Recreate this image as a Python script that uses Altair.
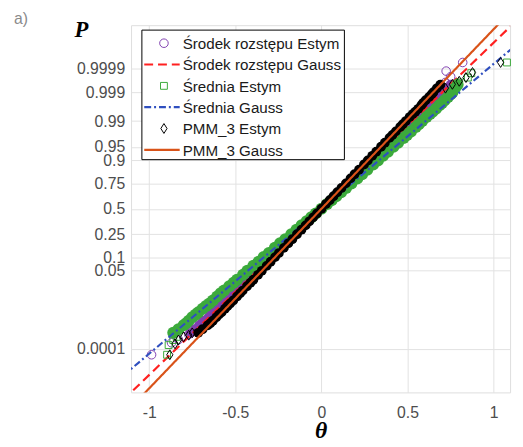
import altair as alt
import pandas as pd
from statistics import NormalDist

ND = NormalDist()

# ---------------- data ----------------
SERIES = ["Środek rozstępu Estym", "Środek rozstępu Gauss", "Średnia Estym",
          "Średnia Gauss", "PMM_3 Estym", "PMM_3 Gauss"]
SERIES_KIND = ["marker", "line", "marker", "line", "marker", "line"]
COLORS = ["#8040b0", "#ff2020", "#3caa3c", "#2f4fbf", "#000000", "#d95319"]

P_TICKS = [0.0001, 0.05, 0.1, 0.25, 0.5, 0.75, 0.9, 0.95, 0.99, 0.999, 0.9999]
P_TICK_LABELS = ["0.0001", "0.05", "0.1", "0.25", "0.5", "0.75", "0.9", "0.95",
                 "0.99", "0.999", "0.9999"]
THETA_TICKS = [-1, -0.5, 0, 0.5, 1]

# dense central part of the empirical distributions (probability levels)
band_P = [0.0005, 0.001, 0.0015, 0.002, 0.003, 0.005, 0.0075, 0.01, 0.015, 0.02,
          0.03, 0.04, 0.05, 0.065, 0.08, 0.1, 0.12, 0.15, 0.18, 0.21,
          0.25, 0.29, 0.33, 0.37, 0.41, 0.45, 0.5,
          0.55, 0.59, 0.63, 0.67, 0.71, 0.75, 0.79, 0.82, 0.85, 0.88,
          0.9, 0.92, 0.935, 0.95, 0.96, 0.97, 0.98, 0.985, 0.99, 0.9925,
          0.995, 0.997, 0.998, 0.9985, 0.999, 0.9995]
band_theta_srodek = [-0.76, -0.71, -0.68, -0.655, -0.625, -0.585, -0.552, -0.528, -0.493, -0.466,
                     -0.427, -0.397, -0.373, -0.344, -0.319, -0.291, -0.267, -0.235, -0.208, -0.183,
                     -0.153, -0.126, -0.1, -0.075, -0.052, -0.029, 0.0,
                     0.029, 0.052, 0.075, 0.1, 0.126, 0.153, 0.183, 0.208, 0.235, 0.267,
                     0.291, 0.319, 0.344, 0.373, 0.397, 0.427, 0.466, 0.493, 0.528, 0.552,
                     0.585, 0.625, 0.655, 0.68, 0.71, 0.75]
band_theta_srednia = [-0.86, -0.80, -0.77, -0.75, -0.715, -0.67, -0.63, -0.605, -0.565, -0.535,
                      -0.49, -0.455, -0.43, -0.395, -0.365, -0.335, -0.305, -0.27, -0.24, -0.21,
                      -0.175, -0.145, -0.115, -0.086, -0.059, -0.033, 0.0,
                      0.033, 0.059, 0.086, 0.114, 0.143, 0.174, 0.208, 0.236, 0.266, 0.3,
                      0.328, 0.358, 0.386, 0.418, 0.445, 0.477, 0.52, 0.548, 0.585, 0.61,
                      0.645, 0.685, 0.715, 0.735, 0.76, 0.79]
band_theta_pmm = [-0.715, -0.66, -0.63, -0.61, -0.58, -0.545, -0.512, -0.49, -0.457, -0.432,
                  -0.395, -0.368, -0.346, -0.318, -0.295, -0.269, -0.247, -0.218, -0.192, -0.169,
                  -0.142, -0.116, -0.092, -0.07, -0.048, -0.026, 0.0,
                  0.026, 0.048, 0.07, 0.092, 0.116, 0.142, 0.169, 0.192, 0.218, 0.247,
                  0.269, 0.295, 0.318, 0.346, 0.368, 0.395, 0.432, 0.457, 0.49, 0.512,
                  0.545, 0.58, 0.605, 0.625, 0.65, 0.69]

# extra readings in the thinner parts of the bands
band_P_extra = [0.0007, 0.0012, 0.0025, 0.004, 0.006, 0.0125, 0.025,
                0.975, 0.9875, 0.994, 0.996, 0.9975, 0.9988, 0.9993]
band_theta_srodek_extra = [-0.735, -0.695, -0.64, -0.602, -0.57, -0.509, -0.445,
                           0.445, 0.509, 0.57, 0.602, 0.64, 0.695, 0.73]
band_theta_srednia_extra = [-0.83, -0.785, -0.73, -0.69, -0.65, -0.585, -0.51,
                            0.497, 0.565, 0.63, 0.665, 0.70, 0.75, 0.775]
band_theta_pmm_extra = [-0.69, -0.645, -0.595, -0.56, -0.53, -0.472, -0.412,
                        0.412, 0.472, 0.53, 0.562, 0.59, 0.64, 0.67]

# sparse tail points (drawn as open markers)
tail_theta_srodek = [-0.986, -0.87, -0.83, -0.80, -0.77, 0.72, 0.75, 0.724, 0.82]
tail_P_srodek = [0.000054, 0.00019, 0.00026, 0.00034, 0.00043, 0.9996, 0.99977, 0.99987, 0.999948]
tail_theta_srednia = [-0.896, -0.887, -0.86, -0.84, 0.80, 0.85, 0.87, 1.077]
tail_P_srednia = [0.000054, 0.00015, 0.00025, 0.00034, 0.9996, 0.99975, 0.99984, 0.999948]
tail_theta_pmm = [-0.88, -0.85, -0.83, -0.80, -0.77, -0.75, 0.72, 0.76, 0.80, 0.839, 0.877, 1.04]
tail_P_pmm = [0.000054, 0.00017, 0.00025, 0.00034, 0.0004, 0.0005,
              0.99931, 0.99952, 0.99964, 0.99975, 0.99985, 0.999948]

# fitted Gaussian CDFs (straight lines on probability paper), end points
gauss_theta_srodek = [-1.15, 1.15]
gauss_P_srodek = [2.0e-7, 1 - 2.0e-7]
gauss_theta_srednia = [-1.15, 1.15]
gauss_P_srednia = [4.9e-6, 1 - 4.9e-6]
gauss_theta_pmm = [-1.10, 1.10]
gauss_P_pmm = [8.0e-8, 1 - 8.0e-8]


def frame(thetas, probs, name):
    return pd.DataFrame({"theta": thetas,
                         "z": [ND.inv_cdf(p) for p in probs],
                         "series": name})


band = {
    0: frame(band_theta_srodek + band_theta_srodek_extra, band_P + band_P_extra, SERIES[0]),
    2: frame(band_theta_srednia + band_theta_srednia_extra, band_P + band_P_extra, SERIES[2]),
    4: frame(band_theta_pmm + band_theta_pmm_extra, band_P + band_P_extra, SERIES[4]),
}
tails = {
    0: frame(tail_theta_srodek, tail_P_srodek, SERIES[0]),
    2: frame(tail_theta_srednia, tail_P_srednia, SERIES[2]),
    4: frame(tail_theta_pmm, tail_P_pmm, SERIES[4]),
}
lines = {
    1: frame(gauss_theta_srodek, gauss_P_srodek, SERIES[1]),
    3: frame(gauss_theta_srednia, gauss_P_srednia, SERIES[3]),
    5: frame(gauss_theta_pmm, gauss_P_pmm, SERIES[5]),
}
legend_df = pd.DataFrame({"series": SERIES, "kind": SERIES_KIND})

# ---------------- styles ----------------
CIRCLE = "M1,0A1,1,0,1,1,-1,0A1,1,0,1,1,1,0Z"
SQUARE = "M-0.8,-0.8H0.8V0.8H-0.8Z"
DIAMOND = "M0,-1.15L0.72,0L0,1.15L-0.72,0Z"
LINE = "M-4.5,0H4.5"
SHAPES = [CIRCLE, LINE, SQUARE, LINE, DIAMOND, LINE]
DASHES = [[1, 0], [9, 5], [1, 0], [7, 3, 2, 3], [1, 0], [1, 0]]
BAND_SIZE = {0: 100, 2: 150, 4: 100}
MARKER_SIZE = 76

z_ticks = [round(ND.inv_cdf(p), 6) for p in P_TICKS]
label_expr = "''"
for zt, lab in zip(z_ticks, P_TICK_LABELS):
    label_expr = f"abs(datum.value - ({zt})) < 0.001 ? '{lab}' : " + label_expr

x_scale = alt.Scale(domain=[-1.105, 1.095], nice=False, zero=False)
y_scale = alt.Scale(domain=[-4.87, 4.87], nice=False, zero=False)
color_scale = alt.Scale(domain=SERIES, range=COLORS)
fill_scale = alt.Scale(domain=SERIES, range=COLORS)
shape_scale = alt.Scale(domain=SERIES, range=SHAPES)
dash_scale = alt.Scale(domain=SERIES, range=DASHES)
# legend rows, placed inside the plot's upper-left corner
legend_row_scale = alt.Scale(type="point", domain=SERIES, range=[18.3, 126.6], padding=0)

x_axis = alt.Axis(values=THETA_TICKS, labelExpr="datum.value + ''", ticks=False, domain=False,
                  grid=True, gridColor="#e2e2e2", labelFont="Liberation Sans", labelFontSize=16,
                  labelColor="#4d4d4d", labelPadding=12, labelFlush=False,
                  title="θ", titleFont="Liberation Serif", titleFontSize=24,
                  titleFontStyle="italic", titleFontWeight="bold", titleColor="#000000",
                  titleBaseline="alphabetic", titleY=46)
y_axis = alt.Axis(values=z_ticks, labelExpr=label_expr, ticks=False, domain=False,
                  grid=True, gridColor="#e2e2e2", labelFont="Liberation Sans", labelFontSize=16,
                  labelColor="#4d4d4d", labelPadding=6.5, labelOverlap=False, labelFlush=False,
                  title="P", titleFont="Liberation Serif", titleFontSize=23,
                  titleFontStyle="italic", titleFontWeight="bold", titleColor="#000000",
                  titleAngle=0, titleAlign="center", titleBaseline="alphabetic",
                  titleX=-51, titleY=11.6)


def x_enc():
    return alt.X("theta:Q", scale=x_scale, axis=x_axis)


def y_enc():
    return alt.Y("z:Q", scale=y_scale, axis=y_axis)


def band_layer(i):
    return alt.Chart(band[i]).mark_circle(size=BAND_SIZE[i], opacity=1).encode(
        x=x_enc(), y=y_enc(),
        fill=alt.Fill("series:N", scale=fill_scale, legend=None),
    )


def tail_layer(i):
    return alt.Chart(tails[i]).mark_point(filled=False, size=MARKER_SIZE, opacity=1,
                                          strokeWidth=1).encode(
        x=x_enc(), y=y_enc(),
        color=alt.Color("series:N", scale=color_scale, legend=None),
        shape=alt.Shape("series:N", scale=shape_scale, legend=None),
    )


def line_layer(i):
    return alt.Chart(lines[i]).mark_line(clip=True, strokeWidth=2.2).encode(
        x=x_enc(), y=y_enc(),
        color=alt.Color("series:N", scale=color_scale, legend=None),
        strokeDash=alt.StrokeDash("series:N", scale=dash_scale, legend=None),
    )


data_layers = alt.layer(
    band_layer(0), tail_layer(0), line_layer(1),
    band_layer(2), tail_layer(2), line_layer(3),
    band_layer(4), tail_layer(4), line_layer(5),
)

# ---- legend (drawn inside the plot, like the original) ----
leg_y = alt.Y("series:N", scale=legend_row_scale, axis=None)
legend_box = alt.Chart(legend_df.head(1)).mark_rect(
    fill="#ffffff", stroke="#000000", strokeWidth=1
).encode(x=alt.value(11), x2=alt.value(216.7), y=alt.value(5), y2=alt.value(136.6))

legend_markers = alt.Chart(legend_df).transform_filter(
    alt.datum.kind == "marker"
).mark_point(filled=False, size=MARKER_SIZE, opacity=1, strokeWidth=1).encode(
    x=alt.value(33.4), y=leg_y,
    color=alt.Color("series:N", scale=color_scale, legend=None),
    shape=alt.Shape("series:N", scale=shape_scale, legend=None),
)
legend_lines = alt.Chart(legend_df).transform_filter(
    alt.datum.kind == "line"
).mark_rule(strokeWidth=2.2).encode(
    x=alt.value(13.4), x2=alt.value(49.4), y=leg_y,
    color=alt.Color("series:N", scale=color_scale, legend=None),
    strokeDash=alt.StrokeDash("series:N", scale=dash_scale, legend=None),
)
legend_text = alt.Chart(legend_df).mark_text(
    align="left", baseline="middle", font="Liberation Sans", fontSize=15.4, color="#1a1a1a", dy=1
).encode(x=alt.value(52.4), y=leg_y, text="series:N")

legend_layers = alt.layer(legend_box, legend_markers, legend_lines, legend_text)

chart = alt.layer(data_layers, legend_layers).resolve_scale(y="independent").properties(
    width=385, height=373,
    title=alt.TitleParams("a)", anchor="start", frame="group", dx=-119, dy=12,
                          fontSize=16, font="Liberation Sans", fontWeight="normal",
                          color="#8a8a8a"),
    padding={"left": 125, "top": 14, "right": 5, "bottom": 52},
    autosize=alt.AutoSizeParams(type="none"),
).configure_view(stroke="#707070", strokeWidth=1).configure(background="#ffffff")

chart.save("out.html", embed_options={"renderer": "svg", "actions": False})
